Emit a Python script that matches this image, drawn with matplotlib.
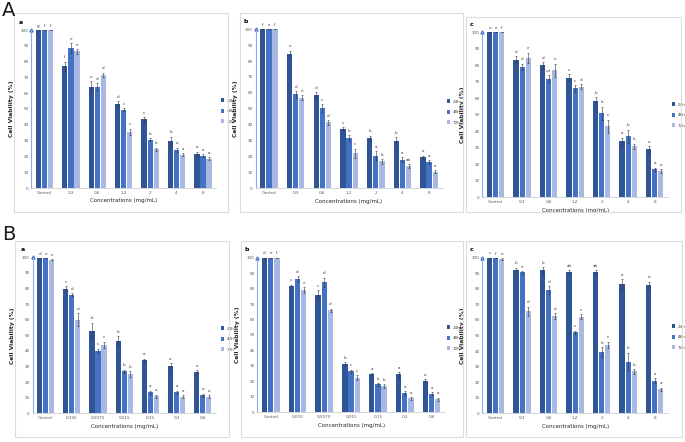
import matplotlib
matplotlib.use("Agg")
import matplotlib.pyplot as plt
from matplotlib.patches import Rectangle

plt.rcParams['font.family'] = ['DejaVu Sans']

# x tick labels
CONC_A = ["Control", "0,3", "0,6", "1,2", "2", "4", "8"]
CONC_BA = ["Control", "0,156", "0,0075", "0,015", "0,15", "0,3", "0,6"]
CONC_BB = ["Control", "0,003", "0,0075", "0,015", "0,15", "0,3", "0,6"]
CONC_BC = ["Control", "0,3", "0,6", "1,2", "2", "4", "8"]

SERIES = ["24h", "48h", "72h"]

# cell viability (%) per panel, one list per time point
AA_24 = [100, 77, 64, 53, 43.5, 29.5, 21.5]
AA_48 = [100, 88.5, 64, 49.5, 30.5, 24, 20.5]
AA_72 = [100, 86.5, 71.5, 35.5, 24.5, 21, 18.5]
AA_ERR_24 = [0, 3, 3.5, 2, 1.5, 3, 1.5]
AA_ERR_48 = [0, 3, 2.5, 1, 1, 1.5, 1]
AA_ERR_72 = [0, 1.5, 1.5, 2, 1, 1, 1]
AA_LET_24 = ["g", "f", "e", "d", "c", "b", "a"]
AA_LET_48 = ["f", "e", "d", "c", "b", "a", "a"]
AA_LET_72 = ["f", "e", "d", "c", "b", "a", "a"]

AB_24 = [100, 84.5, 58.5, 37.5, 31.5, 30, 19.5]
AB_48 = [100, 59, 50.5, 31.5, 20.5, 18, 16.5]
AB_72 = [100, 57, 41.5, 22, 17, 14, 10.5]
AB_ERR_24 = [0, 2, 2, 1, 1.5, 2, 1]
AB_ERR_48 = [0, 2, 2.5, 2, 3, 1.5, 1]
AB_ERR_72 = [0, 1.5, 1.5, 3, 1.5, 1, 1]
AB_LET_24 = ["f", "e", "d", "c", "b", "b", "a"]
AB_LET_48 = ["e", "d", "c", "b", "a", "a", "a"]
AB_LET_72 = ["f", "e", "d", "c", "b", "ab", "a"]

AC_24 = [100, 83.5, 80, 72.5, 58.5, 34, 29]
AC_48 = [100, 79, 72, 66, 51, 37, 17]
AC_72 = [100, 84.5, 77, 67, 43, 31, 16]
AC_ERR_24 = [0, 2, 2, 2, 2, 2, 2]
AC_ERR_48 = [0, 2, 2, 2, 4, 4, 1]
AC_ERR_72 = [0, 3, 4, 1.5, 4, 1.5, 1]
AC_LET_24 = ["e", "d", "d", "c", "b", "a", "a"]
AC_LET_48 = ["e", "d", "cd", "c", "b", "b", "a"]
AC_LET_72 = ["f", "e", "e", "d", "c", "b", "a"]

BA_24 = [99.5, 80, 53, 46.5, 34, 30.5, 26.5]
BA_48 = [99.3, 76, 40, 27, 13.5, 13.5, 11.5]
BA_72 = [98.5, 60, 44, 25, 11, 10.5, 10.5]
BA_ERR_24 = [0, 1.5, 5, 3, 1, 1.5, 1]
BA_ERR_48 = [0, 1, 1.5, 1, 1, 1, 1]
BA_ERR_72 = [0.5, 4, 2, 2, 1, 1, 1]
BA_LET_24 = ["d", "c", "b", "b", "a", "a", "a"]
BA_LET_48 = ["e", "d", "c", "b", "a", "a", "a"]
BA_LET_72 = ["e", "d", "c", "b", "a", "a", "a"]

BB_24 = [100, 81.5, 76, 31.5, 24.5, 24.5, 20.5]
BB_48 = [100, 86, 84, 26.5, 18, 12.5, 12]
BB_72 = [100, 79, 66, 22.5, 17, 9, 8.5]
BB_ERR_24 = [0, 1, 3, 1, 1, 1.5, 1]
BB_ERR_48 = [0, 2, 3, 1, 1, 1, 1]
BB_ERR_72 = [0, 2, 1, 1.5, 1, 1, 1]
BB_LET_24 = ["d", "c", "c", "b", "a", "a", "a"]
BB_LET_48 = ["e", "d", "d", "c", "b", "a", "a"]
BB_LET_72 = ["f", "e", "d", "c", "b", "a", "a"]

BC_24 = [100, 92, 92, 91, 91, 83, 82.5]
BC_48 = [99.5, 90.5, 79, 52, 39.5, 33, 21]
BC_72 = [99.3, 65.5, 62.5, 62, 44, 27, 15.5]
BC_ERR_24 = [0, 1.5, 2, 1, 1, 3, 2]
BC_ERR_48 = [0, 1, 2.5, 1, 3, 6, 1.5]
BC_ERR_72 = [0.5, 3, 2, 1.5, 2, 1.5, 1]
BC_LET_24 = ["c", "b", "b", "ab", "ab", "a", "a"]
BC_LET_48 = ["f", "e", "d", "c", "b", "b", "a"]
BC_LET_72 = ["e", "d", "d", "c", "c", "b", "a"]

COLORS = ["#2f5597", "#4472c4", "#a9b8e2"]

W, H = 685, 442
fig = plt.figure(figsize=(W / 100, H / 100), dpi=100)


def px_axes(x0, x1, ytop, ybot):
    return fig.add_axes([x0 / W, 1 - ybot / H, (x1 - x0) / W, (ybot - ytop) / H])


def panel(box, axbox, letter, legend_xy, labels, vals, errs, lets):
    bx0, by0, bx1, by1 = box
    fig.patches.append(Rectangle((bx0 / W, 1 - by1 / H), (bx1 - bx0) / W, (by1 - by0) / H,
                                 transform=fig.transFigure, fill=False,
                                 edgecolor="#dcdcdc", lw=0.8))
    ax = px_axes(*axbox)
    offsets = [-0.23, 0, 0.23]
    for k in range(3):
        xs = [i + 0.5 + offsets[k] for i in range(len(labels))]
        ax.bar(xs, vals[k], 0.2, color=COLORS[k], label=SERIES[k],
               yerr=errs[k], error_kw=dict(ecolor="#333333", elinewidth=0.4,
                                           capsize=0.8, capthick=0.4))
        for x, v, e, t in zip(xs, vals[k], errs[k], lets[k]):
            ax.text(x, v + e + 1.5, t, ha="center", va="bottom", fontsize=3,
                    color="#404040", clip_on=False)
    ax.set_xlim(0, len(labels))
    ax.set_ylim(0, 100)
    ax.set_xticks([i + 0.5 for i in range(len(labels))])
    ax.set_xticklabels(labels, fontsize=3, color="#595959")
    ax.set_yticks(range(0, 101, 10))
    ax.set_yticklabels([str(v) for v in range(0, 101, 10)], fontsize=3, color="#595959")
    ax.tick_params(length=0, pad=2)
    ax.spines["top"].set_visible(False)
    ax.spines["right"].set_visible(False)
    ax.spines["bottom"].set_color("#d0d0d0")
    ax.spines["bottom"].set_linewidth(0.6)
    ax.spines["left"].set_color("#8faadc")
    ax.spines["left"].set_linewidth(0.8)
    ax.plot([0], [100], marker="^", ms=2.2, color="#4472c4", clip_on=False)
    ax.set_xlabel("Concentrations (mg/mL)", fontsize=4, color="#262626", labelpad=2.5)
    ax.set_ylabel("Cell Viability (%)", fontsize=4.3, fontweight="bold",
                  color="#262626", labelpad=5)
    ax.text(-0.066, 1.05, letter, transform=ax.transAxes, fontsize=4.5,
            fontweight="bold", ha="left", va="center")
    lx, ly = legend_xy
    ax.legend(loc="center left", bbox_to_anchor=(lx / W, 1 - ly / H),
              bbox_transform=fig.transFigure, fontsize=3, frameon=False,
              handlelength=0.8, handleheight=1.0, handletextpad=0.5,
              labelspacing=1.5, borderpad=0, labelcolor="#404040")
    return ax


panel((14, 13, 228, 212), (31.3, 216.2, 30, 188), "a", (219, 111), CONC_A,
      [AA_24, AA_48, AA_72], [AA_ERR_24, AA_ERR_48, AA_ERR_72],
      [AA_LET_24, AA_LET_48, AA_LET_72])
panel((240, 13, 463, 212), (255.6, 442.5, 29.3, 188.3), "b", (445, 112), CONC_A,
      [AB_24, AB_48, AB_72], [AB_ERR_24, AB_ERR_48, AB_ERR_72],
      [AB_LET_24, AB_LET_48, AB_LET_72])
panel((466, 17, 681, 212), (482.4, 668, 32.3, 197.3), "c", (670, 115), CONC_A,
      [AC_24, AC_48, AC_72], [AC_ERR_24, AC_ERR_48, AC_ERR_72],
      [AC_LET_24, AC_LET_48, AC_LET_72])
panel((15, 241, 229, 437), (32.6, 215.8, 257.3, 413.3), "a", (219, 339), CONC_BA,
      [BA_24, BA_48, BA_72], [BA_ERR_24, BA_ERR_48, BA_ERR_72],
      [BA_LET_24, BA_LET_48, BA_LET_72])
panel((241, 241, 463, 437), (257.3, 445, 257.7, 412.3), "b", (445, 338), CONC_BB,
      [BB_24, BB_48, BB_72], [BB_ERR_24, BB_ERR_48, BB_ERR_72],
      [BB_LET_24, BB_LET_48, BB_LET_72])
panel((466, 241, 682, 437), (482.4, 668, 257.7, 413.3), "c", (670, 337), CONC_BC,
      [BC_24, BC_48, BC_72], [BC_ERR_24, BC_ERR_48, BC_ERR_72],
      [BC_LET_24, BC_LET_48, BC_LET_72])

fig.text(2 / W, 1 - 1 / H, "A", fontsize=14, ha="left", va="top", color="#1a1a1a",
         family=["Liberation Sans Narrow", "DejaVu Sans"])
fig.text(2 / W, 1 - 225 / H, "B", fontsize=14, ha="left", va="top", color="#1a1a1a",
         family=["Liberation Sans Narrow", "DejaVu Sans"])

fig.savefig("out.png", dpi=100)
